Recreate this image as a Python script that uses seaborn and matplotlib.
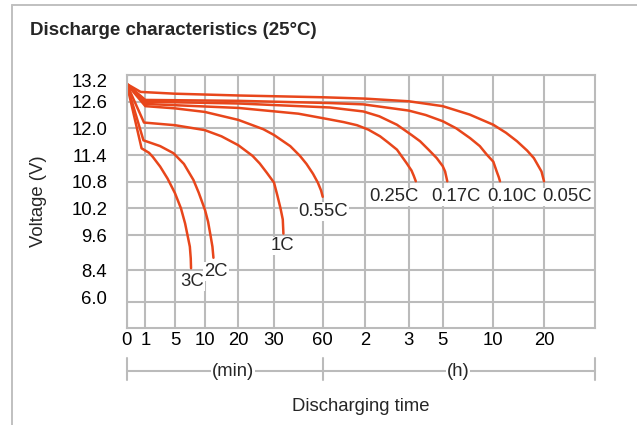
import numpy as np
import pandas as pd
import matplotlib
matplotlib.use('Agg')
import matplotlib.pyplot as plt
import seaborn as sns
from matplotlib.lines import Line2D
from matplotlib.transforms import ScaledTranslation

# discharge curves: time in minutes, voltage in V
rates = ['0.05C', '0.10C', '0.17C', '0.25C', '0.55C', '1C', '2C', '3C']

t_005 = [0, 0.75, 5, 20, 60, 120, 180, 300, 460, 600, 750, 880, 1000, 1080, 1170, 1200]
v_005 = [13.0, 12.82, 12.78, 12.74, 12.70, 12.67, 12.61, 12.50, 12.31, 12.08, 11.9, 11.71, 11.5, 11.33, 11.03, 10.81]

t_010 = [0, 1, 20, 70, 118, 180, 240, 300, 380, 462, 520, 561, 600, 640, 665, 679]
v_010 = [13.0, 12.64, 12.62, 12.57, 12.54, 12.40, 12.30, 12.16, 12.0, 11.78, 11.6, 11.41, 11.25, 11.03, 10.9, 10.81]

t_017 = [0, 1, 20, 70, 118, 140, 164, 190, 220, 250, 279, 300, 314, 327]
v_017 = [13.0, 12.60, 12.56, 12.47, 12.38, 12.27, 12.08, 11.85, 11.71, 11.52, 11.33, 11.15, 11.03, 10.81]

t_025 = [0, 1, 20, 45, 70, 90, 109, 125, 141, 152, 164, 177, 190, 198, 205]
v_025 = [13.0, 12.55, 12.46, 12.33, 12.2, 12.14, 12.07, 11.97, 11.82, 11.68, 11.52, 11.22, 11.05, 10.93, 10.81]

t_055 = [0, 1, 5, 10, 20, 27, 30, 40, 46, 50, 54, 57, 59, 60]
v_055 = [13.0, 12.5, 12.45, 12.37, 12.19, 11.98, 11.85, 11.6, 11.38, 11.2, 10.98, 10.78, 10.6, 10.46]

t_1c = [0, 0.93, 5, 10, 15, 20, 24, 26, 28, 30, 32, 34, 35.4, 35.8]
v_1c = [13.0, 12.13, 12.07, 11.96, 11.82, 11.62, 11.38, 11.21, 11.0, 10.78, 10.5, 10.2, 9.95, 9.63]

t_2c = [0, 0.9, 3, 4.8, 6.5, 8.1, 9, 10.1, 11, 11.8, 12.3, 12.6]
v_2c = [13.0, 11.73, 11.6, 11.44, 11.2, 10.84, 10.55, 10.16, 9.9, 9.54, 9.2, 8.82]

t_3c = [0, 0.8, 1.5, 2, 3, 4, 5, 6, 6.7, 7.2, 7.5, 7.65, 7.7]
v_3c = [13.0, 11.55, 11.45, 11.36, 11.14, 10.87, 10.54, 10.2, 9.86, 9.5, 9.2, 8.8, 8.46]

times = [t_005, t_010, t_017, t_025, t_055, t_1c, t_2c, t_3c]
volts = [v_005, v_010, v_017, v_025, v_055, v_1c, v_2c, v_3c]

# axis ticks (minutes) and labels
x_ticks = [0, 1, 5, 10, 20, 30, 60, 120, 180, 300, 600, 1200]
x_labels = ['0', '1', '5', '10', '20', '30', '60', '2', '3', '5', '10', '20']
y_ticks = [6.0, 8.4, 9.6, 10.2, 10.8, 11.4, 12.0, 12.6, 13.2]

# the chart uses a hand drawn, uneven scale on both axes
x_anchor = [0, 1, 5, 10, 20, 30, 60, 120, 180, 300, 600, 1200, 2400]
x_anchor_pos = [0, 18.6, 48.3, 78, 111.6, 147.3, 196, 238, 282, 316, 366.6, 417.3, 468.3]
y_anchor = [3.6, 6.0, 8.4, 9.6, 10.2, 10.8, 11.4, 12.0, 12.6, 13.2]
y_anchor_pos = [0, 26.6, 58.3, 93.3, 120, 146.6, 173.3, 200, 226.6, 253.3]

rows = []
for r, ts, vs in zip(rates, times, volts):
    for t, v in zip(ts, vs):
        rows.append((r, t, v))
df = pd.DataFrame(rows, columns=['rate', 'time', 'volt'])

sns.set_theme(style='white')
plt.rcParams['font.family'] = ['Liberation Sans', 'DejaVu Sans']

grid_c = '#bbbbbb'
line_c = '#e8461b'
fs = 13.3

fig = plt.figure(figsize=(6.37, 4.25), dpi=100)
ax = fig.add_axes([0.1989, 0.2275, 0.7352, 0.596])

ax.set_xscale('function', functions=(lambda x: np.interp(x, x_anchor, x_anchor_pos),
                                     lambda p: np.interp(p, x_anchor_pos, x_anchor)))
ax.set_yscale('function', functions=(lambda y: np.interp(y, y_anchor, y_anchor_pos),
                                     lambda p: np.interp(p, y_anchor_pos, y_anchor)))

sns.lineplot(data=df, x='time', y='volt', units='rate', estimator=None, sort=False,
             color=line_c, lw=1.8, ax=ax, legend=False, solid_joinstyle='round')

ax.set_xlim(0, 2400)
ax.set_ylim(3.6, 13.2)
ax.set_xticks(x_ticks, x_labels)
ax.set_yticks(y_ticks, [f'{v:.1f}' for v in y_ticks])
ax.minorticks_off()
ax.set_axisbelow(True)
ax.grid(True, color=grid_c, lw=1.5)
for s in ax.spines.values():
    s.set_color(grid_c)
    s.set_linewidth(1.5)
ax.tick_params(axis='x', length=0, pad=3, labelsize=fs, colors='black')
ax.tick_params(axis='y', length=0, pad=14, labelsize=fs, colors='black')

# top and bottom voltage labels sit a little inside their grid lines
yt = ax.yaxis.get_major_ticks()
for tk, dy in [(yt[-1], -5.5), (yt[0], 4.4)]:
    tk.label1.set_transform(tk.label1.get_transform() +
                            ScaledTranslation(0, dy / 100, fig.dpi_scale_trans))

ax.set_ylabel('Voltage (V)', fontsize=fs, va='center')
ax.yaxis.set_label_coords(-0.189, 0.5)
ax.set_xlabel('Discharging time', fontsize=fs, va='center')
ax.xaxis.set_label_coords(0.5, -0.31)

# curve labels, offset from the end of each curve (pixels)
label_off = {'0.05C': (23.5, -15.7), '0.10C': (12, -15.7), '0.17C': (8.3, -15.7),
             '0.25C': (-21.7, -15.7), '0.55C': (0.7, -14.3), '1C': (-0.7, -12.3),
             '2C': (2.7, -13.7), '3C': (1, -13.4)}
for r, ts, vs in zip(rates, times, volts):
    ax.annotate(r, xy=(ts[-1], vs[-1]), xytext=label_off[r], textcoords='offset pixels',
                ha='center', va='center', fontsize=fs, zorder=5,
                bbox=dict(facecolor='white', edgecolor='none', pad=0.6))

# (min) / (h) bracket under the axis
tr = ax.get_xaxis_transform()
yb = -0.1686
ax.plot([0, 2400], [yb, yb], color=grid_c, lw=1.5, transform=tr, clip_on=False)
for xv in [0, 60, 2400]:
    ax.plot([xv, xv], [-0.117, -0.204], color=grid_c, lw=1.5, transform=tr, clip_on=False)
for txt, xf in [('(min)', 0.227), ('(h)', 0.707)]:
    ax.text(xf, yb, txt, transform=ax.transAxes, ha='center', va='center', fontsize=fs,
            bbox=dict(facecolor='white', edgecolor='none', pad=0.5))

# title and frame
fig.text(0.0471, 0.9176, 'Discharge characteristics (25°C)', fontsize=13.5,
         fontweight='bold', ha='left', va='baseline')
fig.add_artist(Line2D([12 / 637, 1], [1 - 5 / 425, 1 - 5 / 425], color='#c0c0c0', lw=1.4))
fig.add_artist(Line2D([12 / 637, 12 / 637], [0, 1 - 5 / 425], color='#c0c0c0', lw=1.4))

fig.savefig('out.png', dpi=100)
